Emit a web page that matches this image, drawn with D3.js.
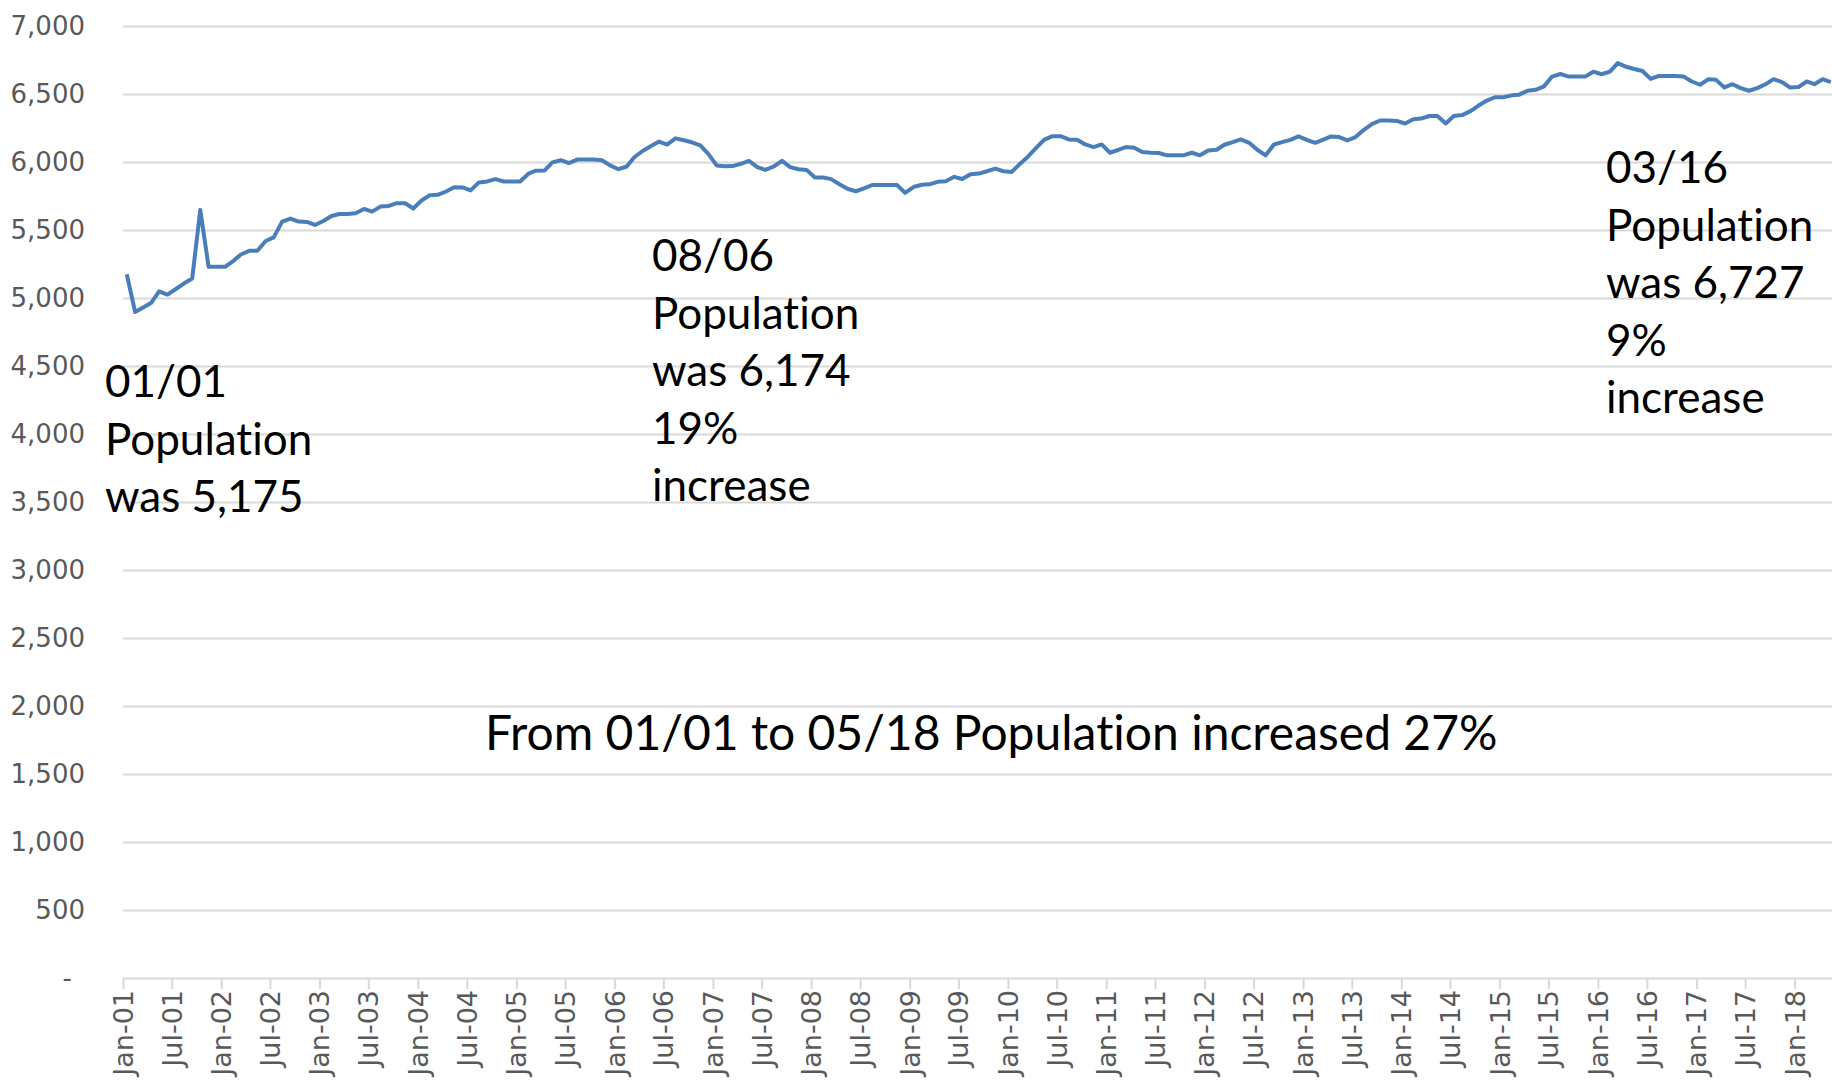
<!DOCTYPE html>
<html>
<head>
<meta charset="utf-8">
<script src="https://cdn.jsdelivr.net/npm/d3@7"></script>
<style>
  body { margin: 0; background: #fff; }
  svg { display: block; }
  text { font-variant-ligatures: none; }
</style>
</head>
<body>
<script>
var w = 1832;
var h = 1087;

// monthly population, starting Jan 2001 (one value per month, through May 2018)
var startMonth = "2001-01";
var population = [
    5175, 4897, 4929, 4963, 5049, 5025, 5064, 5106, 5143, 5648, 5229, 5229,   // 2001
    5229, 5273, 5320, 5347, 5347, 5419, 5446, 5562, 5584, 5562, 5559, 5537,   // 2002
    5566, 5603, 5618, 5618, 5623, 5655, 5635, 5672, 5677, 5697, 5697, 5658,   // 2003
    5717, 5756, 5759, 5783, 5815, 5813, 5791, 5850, 5857, 5874, 5857, 5857,   // 2004
    5857, 5914, 5936, 5937, 5997, 6013, 5992, 6018, 6018, 6018, 6013, 5975,   // 2005
    5947, 5967, 6035, 6081, 6115, 6150, 6128, 6174, 6160, 6145, 6122, 6060,   // 2006
    5975, 5968, 5970, 5987, 6008, 5962, 5942, 5967, 6008, 5962, 5947, 5942,   // 2007
    5886, 5886, 5874, 5836, 5803, 5785, 5806, 5831, 5831, 5831, 5831, 5773,   // 2008
    5816, 5833, 5836, 5854, 5859, 5891, 5875, 5910, 5915, 5932, 5951, 5932,   // 2009
    5927, 5988, 6037, 6102, 6163, 6190, 6190, 6166, 6163, 6129, 6110, 6129,   // 2010
    6068, 6090, 6110, 6105, 6073, 6068, 6066, 6049, 6049, 6049, 6068, 6049,   // 2011
    6085, 6090, 6127, 6146, 6166, 6141, 6090, 6049, 6129, 6146, 6163, 6188,   // 2012
    6163, 6141, 6163, 6188, 6183, 6159, 6183, 6237, 6280, 6305, 6305, 6302,   // 2013
    6283, 6314, 6319, 6338, 6338, 6283, 6338, 6345, 6374, 6415, 6452, 6476,   // 2014
    6476, 6490, 6495, 6524, 6531, 6556, 6628, 6647, 6628, 6628, 6628, 6664,   // 2015
    6645, 6664, 6727, 6700, 6684, 6669, 6611, 6633, 6633, 6633, 6628, 6592,   // 2016
    6568, 6609, 6604, 6548, 6572, 6543, 6524, 6543, 6572, 6609, 6587, 6548,   // 2017
    6551, 6592, 6572, 6609, 6587                                              // 2018
];

var yTicks = [0, 500, 1000, 1500, 2000, 2500, 3000, 3500, 4000, 4500, 5000, 5500, 6000, 6500, 7000];

var xTickLabels = [
    "Jan-01", "Jul-01", "Jan-02", "Jul-02", "Jan-03", "Jul-03", "Jan-04", "Jul-04",
    "Jan-05", "Jul-05", "Jan-06", "Jul-06", "Jan-07", "Jul-07", "Jan-08", "Jul-08",
    "Jan-09", "Jul-09", "Jan-10", "Jul-10", "Jan-11", "Jul-11", "Jan-12", "Jul-12",
    "Jan-13", "Jul-13", "Jan-14", "Jul-14", "Jan-15", "Jul-15", "Jan-16", "Jul-16",
    "Jan-17", "Jul-17", "Jan-18"
];

var note1 = ["01/01", "Population", "was 5,175"];
var note2 = ["08/06", "Population", "was 6,174", "19%", "increase"];
var note3 = ["03/16", "Population", "was 6,727", "9%", "increase"];
var note4 = ["From 01/01 to 05/18 Population increased 27%"];

// ---- build dated points (mid-month) ----
var parseMonth = d3.timeParse("%Y-%m");
var parseTick = d3.timeParse("%b-%y");
var first = parseMonth(startMonth);
var data = population.map(function (v, i) {
    var d = d3.timeMonth.offset(first, i);
    return { date: d3.timeDay.offset(d, 14), value: v };
});
var tickDates = xTickLabels.map(function (s) { return parseTick(s); });

var plotLeft = 123;
var plotTop = 26;
var plotBottom = 978;

var x = d3.scaleTime()
    .domain([first, d3.timeDay.offset(d3.timeMonth.offset(first, population.length - 1), 15)])
    .range([plotLeft, 1831]);

var y = d3.scaleLinear()
    .domain([0, 7000])
    .range([plotBottom, plotTop]);

var svg = d3.select("body")
    .append("svg")
    .attr("width", w)
    .attr("height", h);

// y axis + gridlines
var fmt = d3.format(",");
var gy = svg.append("g")
    .attr("transform", "translate(" + plotLeft + ",0)")
    .call(d3.axisLeft(y)
        .tickValues(yTicks)
        .tickSize(-(w - plotLeft))
        .tickPadding(38)
        .tickFormat(function (d) { return d === 0 ? "-" : fmt(d); }));
gy.select(".domain").remove();
gy.selectAll(".tick line").attr("stroke", "#d9d9d9").attr("stroke-width", 2);
gy.selectAll(".tick text")
    .attr("font-family", "DejaVu Sans, sans-serif")
    .attr("font-size", 26)
    .attr("fill", "#595959")
    .attr("dx", function (d) { return d === 0 ? -13 : 0; });

// x axis tick marks + rotated labels
var gx = svg.append("g")
    .attr("transform", "translate(0," + plotBottom + ")")
    .call(d3.axisBottom(x)
        .tickValues(tickDates)
        .tickSize(11)
        .tickFormat(d3.timeFormat("%b-%y")));
gx.select(".domain").remove();
gx.selectAll(".tick line").attr("stroke", "#d9d9d9").attr("stroke-width", 2);
gx.selectAll(".tick text")
    .attr("font-family", "DejaVu Sans, sans-serif")
    .attr("font-size", 27)
    .attr("fill", "#595959")
    .attr("transform", "rotate(-90)")
    .attr("text-anchor", "end")
    .attr("x", -12)
    .attr("y", 0)
    .attr("dy", "0.35em");

// the line
var line = d3.line()
    .x(function (d) { return x(d.date); })
    .y(function (d) { return y(d.value); });

svg.append("path")
    .datum(data)
    .attr("d", line)
    .attr("fill", "none")
    .attr("stroke", "#4a7ebb")
    .attr("stroke-width", 4)
    .attr("stroke-linejoin", "round");

// annotations
function note(lines, px, py, size) {
    var t = svg.append("text")
        .attr("font-family", "Lato, sans-serif")
        .attr("font-size", size)
        .attr("fill", "#000");
    t.selectAll("tspan")
        .data(lines)
        .enter()
        .append("tspan")
        .attr("x", px)
        .attr("y", function (d, i) { return py + i * 57.5; })
        .text(function (d) { return d; });
}

note(note1, 105, 397, 44);
note(note2, 652, 271, 44);
note(note3, 1606, 183, 44);
note(note4, 485, 750, 48);
</script>
</body>
</html>
